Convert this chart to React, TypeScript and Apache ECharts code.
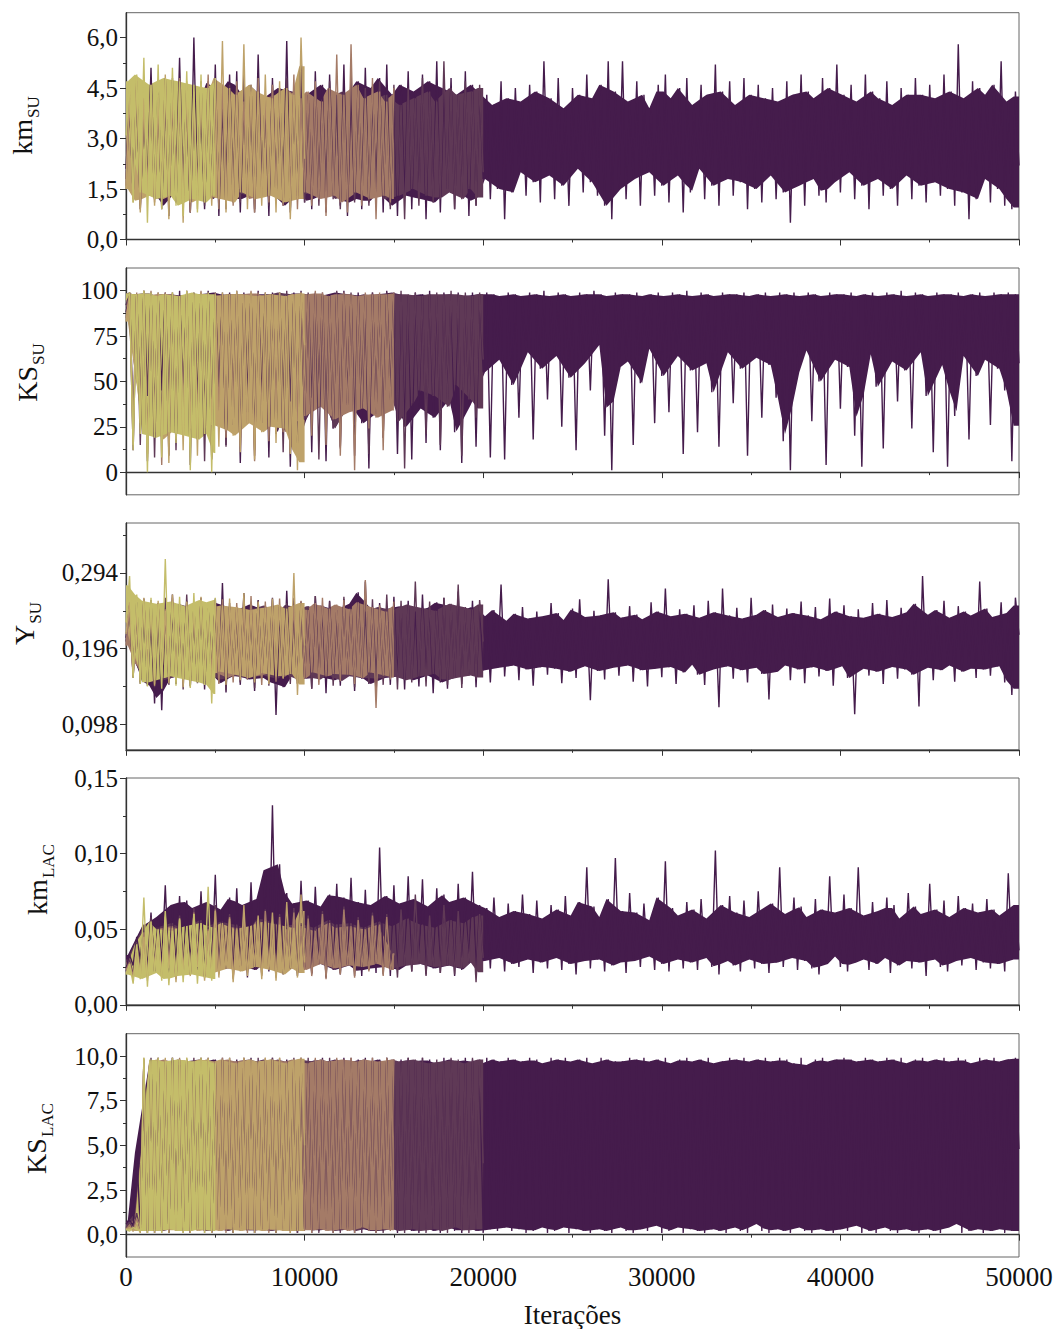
import React, { useEffect, useRef } from 'react';
import * as echarts from 'echarts';

// Trace samples are stored every ITER_STEP iterations (alternating low / high excursions).
const ITER_STEP = 200;
const ITER_MAX = 50000;
const FONT = '"Liberation Serif", "Times New Roman", serif';

// Chains, longest first (drawn underneath the shorter ones).
const chainColors = ['#451c4c', '#5f3956', '#a47b67', '#bea26a', '#c4bd6a'];

// ---------------- km_SU ----------------
const kmSuPurple = [
  2.1, 4.2, 1.3, 4.6, 0.9, 4.0, 1.6, 5.1, 1.2, 4.4,
  1.0, 4.8, 0.7, 4.3, 1.5, 5.4, 1.1, 4.5, 0.8, 6.0,
  1.4, 4.1, 0.9, 4.7, 1.2, 5.2, 0.7, 4.4, 1.6, 4.9,
  1.1, 5.0, 0.8, 4.3, 1.3, 4.6, 0.9, 5.5, 1.5, 4.2,
  0.7, 4.8, 1.2, 4.5, 1.0, 5.9, 0.8, 4.4, 1.4, 5.6,
  1.1, 4.3, 0.9, 5.0, 1.3, 4.6, 0.8, 4.9, 1.6, 4.2,
  1.0, 5.2, 0.7, 4.4, 1.2, 4.7, 0.9, 5.1, 1.1, 4.5,
  1.4, 4.8, 0.8, 5.2, 1.0, 4.3, 0.7, 4.6, 1.3, 5.0,
  0.9, 4.4, 1.2, 4.9, 0.6, 4.7, 1.1, 5.3, 0.8, 4.5,
  1.5, 4.8, 0.9, 4.3, 1.3, 5.0, 0.7, 4.6, 1.0, 4.4,
  1.8, 4.3, 1.2, 4.0, 1.5, 4.7, 0.6, 4.2, 1.4, 4.5,
  2.0, 4.1, 1.3, 4.6, 1.7, 4.4, 1.1, 5.3, 1.9, 4.2,
  1.2, 4.8, 1.6, 3.9, 1.0, 4.5, 2.1, 4.3, 1.4, 4.9,
  1.7, 4.2, 1.3, 4.6, 1.0, 5.3, 0.6, 4.4, 1.5, 5.3,
  1.2, 4.1, 1.8, 4.7, 1.0, 4.3, 2.0, 3.9, 1.3, 4.6,
  1.6, 4.9, 1.1, 4.2, 1.9, 4.5, 0.8, 4.8, 1.4, 4.0,
  2.1, 4.6, 1.2, 4.3, 1.6, 5.2, 1.0, 4.4, 1.8, 4.7,
  1.3, 4.0, 1.7, 4.8, 0.9, 4.3, 1.5, 4.6, 1.1, 4.2,
  1.9, 4.5, 1.2, 4.1, 1.4, 4.7, 0.5, 4.3, 1.6, 4.9,
  1.0, 4.4, 1.8, 4.2, 1.3, 4.8, 1.1, 4.5, 1.7, 5.2,
  1.4, 4.3, 2.0, 4.6, 1.2, 4.1, 1.6, 4.9, 0.9, 4.4,
  1.8, 4.2, 1.3, 4.7, 1.5, 4.0, 1.0, 4.5, 1.9, 4.3,
  1.2, 4.8, 1.6, 4.3, 1.1, 4.6, 1.7, 4.2, 1.3, 4.9,
  1.5, 4.4, 1.0, 5.8, 1.4, 4.2, 0.6, 4.7, 1.2, 4.5,
  1.8, 4.3, 1.1, 4.6, 1.5, 5.3, 1.0, 4.1, 0.9, 4.4,
  2.2,
];
const kmSuPlum = [
  1.8, 4.0, 1.3, 4.5, 1.0, 3.9, 1.5, 4.3, 1.2, 4.6,
  0.9, 4.2, 1.4, 4.8, 1.1, 4.1, 1.6, 4.4, 0.8, 4.0,
  1.3, 4.7, 1.0, 4.2, 1.5, 4.5, 1.2, 3.9, 0.9, 4.6,
  1.4, 4.3, 1.1, 4.9, 1.3, 4.1, 0.8, 4.4, 1.5, 4.2,
  1.0, 4.6, 1.2, 4.0, 1.6, 4.8, 0.9, 4.3, 1.3, 5.0,
  1.1, 4.2, 1.4, 4.5, 1.0, 4.1, 1.5, 4.7, 1.2, 4.3,
  0.9, 4.4, 1.3, 4.9, 1.1, 4.2, 1.6, 4.5, 1.0, 4.1,
  1.4, 4.7, 1.2, 4.3, 0.9, 4.6, 1.3, 4.0, 0.6, 4.5,
  1.5, 4.2, 1.0, 4.8, 1.3, 4.4, 1.1, 4.1, 1.2, 5.3,
  1.4, 4.5, 0.9, 4.3, 1.2, 4.7, 1.5, 4.4, 1.0, 4.6,
  2.0,
];
const kmSuBrown = [
  1.6, 4.3, 1.2, 4.7, 0.9, 4.1, 1.4, 4.5, 1.1, 4.0,
  1.3, 4.6, 1.0, 4.2, 1.5, 4.8, 1.2, 4.4, 0.8, 4.1,
  1.4, 4.5, 1.1, 4.9, 1.3, 4.2, 0.9, 4.6, 1.2, 4.3,
  1.0, 4.7, 1.5, 4.1, 1.2, 4.4, 0.8, 4.8, 1.3, 4.2,
  1.1, 4.6, 1.4, 4.3, 1.0, 4.5, 1.3, 4.9, 0.9, 4.2,
  1.4, 4.4, 1.0, 4.7, 1.2, 4.1, 0.7, 4.5, 1.3, 5.5,
  1.1, 4.3, 0.8, 5.8, 1.4, 4.6, 1.0, 4.2, 1.2, 4.8,
  0.6, 4.4, 1.3, 4.1, 1.1, 4.5,
];
const kmSuTan = [
  1.5, 4.4, 1.1, 4.8, 0.8, 4.2, 1.3, 4.6, 1.0, 4.3,
  1.2, 4.9, 0.6, 4.5, 1.4, 4.1, 0.5, 4.7, 1.1, 4.4,
  0.9, 4.6, 1.3, 4.2, 1.0, 4.8, 1.2, 5.9, 0.8, 4.5,
  1.1, 4.3, 1.4, 5.8, 0.9, 4.6, 1.2, 4.4, 1.0, 4.9,
  1.3, 4.2, 0.8, 4.7, 1.1, 4.5, 0.6, 4.3, 1.2, 6.0,
  2.4,
];
const kmSuYellow = [
  3.1, 4.7, 1.1, 4.9, 1.4, 5.4, 0.5, 4.6, 1.2, 5.2,
  0.9, 4.8, 1.3, 5.1, 1.0, 4.7, 0.7, 5.0, 1.2, 4.6,
  0.8, 4.9, 1.1, 4.5, 1.3, 4.8,
];

// ---------------- KS_SU ----------------
const ksSuPurple = [
  88, 99, 12, 98, 35, 100, 6, 99, 28, 97,
  45, 99, 9, 98, 22, 100, 38, 97, 4, 99,
  18, 98, 30, 100, 7, 99, 42, 98, 15, 99,
  26, 97, 5, 99, 33, 98, 12, 100, 40, 98,
  8, 99, 21, 98, 36, 97, 3, 99, 17, 100,
  29, 98, 11, 99, 44, 97, 6, 98, 24, 99,
  14, 100, 38, 98, 9, 99, 27, 97, 2, 99,
  33, 98, 19, 100, 41, 99, 10, 98, 25, 97,
  7, 99, 35, 98, 16, 100, 30, 97, 12, 99,
  40, 98, 22, 99, 5, 97, 37, 99, 14, 98,
  55, 99, 8, 98, 62, 97, 7, 99, 48, 98,
  30, 97, 66, 99, 18, 98, 57, 100, 40, 97,
  64, 99, 25, 98, 52, 97, 12, 99, 60, 98,
  45, 100, 70, 98, 20, 97, 1, 99, 58, 98,
  61, 98, 15, 99, 49, 97, 68, 98, 27, 99,
  53, 97, 33, 99, 64, 98, 10, 100, 56, 97,
  22, 99, 60, 98, 44, 97, 14, 99, 66, 98,
  38, 98, 57, 99, 9, 97, 63, 98, 30, 99,
  59, 97, 41, 99, 17, 98, 1, 99, 55, 97,
  67, 99, 28, 98, 50, 97, 4, 99, 62, 98,
  35, 98, 58, 99, 20, 97, 3, 98, 65, 99,
  47, 97, 13, 99, 61, 98, 39, 100, 56, 97,
  24, 99, 66, 98, 42, 97, 11, 99, 59, 98,
  3, 98, 31, 99, 64, 97, 18, 98, 53, 99,
  62, 97, 26, 99, 57, 98, 45, 99, 6, 98,
  60,
];
const ksSuPlum = [
  92, 99, 30, 98, 15, 100, 42, 97, 8, 99,
  25, 98, 38, 99, 12, 97, 33, 100, 20, 98,
  40, 99, 6, 98, 28, 97, 36, 99, 14, 98,
  31, 100, 18, 98, 43, 99, 9, 97, 27, 99,
  35, 98, 22, 99, 11, 100, 39, 98, 16, 97,
  29, 99, 41, 98, 7, 99, 34, 97, 24, 100,
  13, 98, 37, 99, 26, 97, 44, 98, 10, 99,
  32, 97, 19, 99, 40, 98, 28, 100, 2, 98,
  38, 99, 45, 97, 21, 98, 42, 99, 15, 98,
  36, 100, 48, 98, 9, 99, 40, 97, 30, 99,
  62,
];
const ksSuBrown = [
  85, 98, 20, 99, 33, 97, 10, 100, 27, 98,
  4, 99, 31, 98, 18, 97, 35, 99, 12, 98,
  29, 100, 24, 98, 8, 99, 34, 97, 19, 98,
  32, 99, 14, 98, 27, 100, 6, 99, 30, 97,
  17, 98, 33, 99, 22, 97, 11, 98, 28, 99,
  31, 98, 20, 100, 36, 99, 15, 97, 29, 98,
  9, 99, 33, 98, 1, 97, 35, 99, 24, 98,
  30, 99, 12, 98, 34, 99,
];
const ksSuTan = [
  83, 99, 15, 98, 27, 100, 8, 97, 22, 99,
  18, 98, 5, 99, 25, 97, 12, 100, 24, 98,
  9, 99, 21, 98, 26, 97, 14, 99, 23, 98,
  20, 100, 11, 98, 27, 99, 7, 97, 22, 99,
  25, 98, 16, 99, 24, 97, 10, 98, 1, 99,
  70,
];
const ksSuYellow = [
  95, 99, 12, 98, 21, 100, 0, 99, 19, 97,
  8, 98, 22, 99, 16, 97, 20, 100, 1, 99,
  18, 98, 21, 99, 0, 98,
];

// ---------------- Y_SU ----------------
const ySuPurple = [
  0.210, 0.252, 0.160, 0.247, 0.152, 0.261, 0.148, 0.240, 0.125, 0.255,
  0.116, 0.249, 0.158, 0.266, 0.150, 0.243, 0.163, 0.258, 0.147, 0.251,
  0.155, 0.262, 0.143, 0.248, 0.160, 0.256, 0.151, 0.281, 0.139, 0.250,
  0.162, 0.245, 0.149, 0.268, 0.156, 0.253, 0.141, 0.259, 0.158, 0.247,
  0.152, 0.262, 0.110, 0.250, 0.146, 0.271, 0.161, 0.244, 0.150, 0.257,
  0.157, 0.249, 0.144, 0.264, 0.159, 0.252, 0.138, 0.258, 0.155, 0.246,
  0.148, 0.260, 0.162, 0.254, 0.141, 0.269, 0.157, 0.283, 0.150, 0.248,
  0.136, 0.255, 0.158, 0.247, 0.149, 0.263, 0.160, 0.251, 0.143, 0.258,
  0.155, 0.244, 0.147, 0.266, 0.161, 0.249, 0.138, 0.256, 0.152, 0.262,
  0.144, 0.251, 0.159, 0.270, 0.150, 0.246, 0.163, 0.258, 0.146, 0.253,
  0.168, 0.238, 0.152, 0.246, 0.171, 0.279, 0.160, 0.232, 0.174, 0.241,
  0.155, 0.250, 0.169, 0.235, 0.148, 0.244, 0.172, 0.238, 0.162, 0.255,
  0.170, 0.242, 0.151, 0.233, 0.166, 0.248, 0.158, 0.260, 0.173, 0.237,
  0.129, 0.245, 0.167, 0.239, 0.156, 0.286, 0.171, 0.243, 0.161, 0.236,
  0.174, 0.251, 0.153, 0.240, 0.168, 0.234, 0.147, 0.256, 0.170, 0.244,
  0.159, 0.274, 0.172, 0.238, 0.150, 0.247, 0.165, 0.241, 0.175, 0.252,
  0.162, 0.236, 0.149, 0.258, 0.169, 0.243, 0.120, 0.274, 0.173, 0.239,
  0.157, 0.249, 0.168, 0.235, 0.152, 0.262, 0.171, 0.240, 0.163, 0.246,
  0.130, 0.253, 0.166, 0.237, 0.174, 0.248, 0.155, 0.242, 0.169, 0.257,
  0.151, 0.239, 0.172, 0.250, 0.160, 0.234, 0.167, 0.261, 0.148, 0.244,
  0.173, 0.252, 0.158, 0.238, 0.111, 0.247, 0.170, 0.236, 0.161, 0.255,
  0.166, 0.241, 0.150, 0.259, 0.172, 0.237, 0.157, 0.249, 0.169, 0.243,
  0.162, 0.254, 0.121, 0.290, 0.171, 0.240, 0.155, 0.246, 0.168, 0.258,
  0.174, 0.236, 0.153, 0.251, 0.166, 0.244, 0.170, 0.239, 0.158, 0.283,
  0.169, 0.248, 0.161, 0.237, 0.173, 0.256, 0.152, 0.242, 0.136, 0.262,
  0.214,
];
const ySuPlum = [
  0.205, 0.248, 0.158, 0.256, 0.150, 0.243, 0.162, 0.259, 0.146, 0.251,
  0.155, 0.262, 0.149, 0.245, 0.160, 0.254, 0.143, 0.266, 0.157, 0.249,
  0.151, 0.257, 0.163, 0.244, 0.147, 0.261, 0.156, 0.250, 0.142, 0.255,
  0.160, 0.248, 0.152, 0.265, 0.158, 0.246, 0.145, 0.258, 0.161, 0.252,
  0.148, 0.260, 0.157, 0.243, 0.163, 0.255, 0.150, 0.262, 0.155, 0.247,
  0.159, 0.251, 0.144, 0.264, 0.156, 0.249, 0.162, 0.257, 0.148, 0.245,
  0.153, 0.263, 0.160, 0.248, 0.146, 0.256, 0.158, 0.244, 0.151, 0.260,
  0.157, 0.250, 0.149, 0.266, 0.161, 0.246, 0.143, 0.258, 0.155, 0.253,
  0.152, 0.283, 0.160, 0.249, 0.147, 0.257, 0.163, 0.245, 0.154, 0.262,
  0.149, 0.254, 0.158, 0.279, 0.145, 0.250, 0.161, 0.247, 0.156, 0.259,
  0.205,
];
const ySuBrown = [
  0.200, 0.251, 0.162, 0.245, 0.155, 0.258, 0.168, 0.249, 0.150, 0.254,
  0.159, 0.247, 0.165, 0.262, 0.152, 0.244, 0.161, 0.256, 0.148, 0.250,
  0.163, 0.259, 0.154, 0.243, 0.166, 0.253, 0.150, 0.260, 0.158, 0.246,
  0.152, 0.255, 0.167, 0.248, 0.156, 0.264, 0.160, 0.245, 0.149, 0.257,
  0.164, 0.250, 0.153, 0.261, 0.158, 0.244, 0.166, 0.252, 0.151, 0.258,
  0.157, 0.246, 0.165, 0.255, 0.149, 0.262, 0.160, 0.248, 0.163, 0.253,
  0.154, 0.259, 0.162, 0.247, 0.150, 0.256, 0.158, 0.285, 0.165, 0.250,
  0.119, 0.252, 0.161, 0.244, 0.156, 0.257,
];
const ySuTan = [
  0.215, 0.256, 0.160, 0.249, 0.153, 0.262, 0.165, 0.251, 0.148, 0.258,
  0.158, 0.245, 0.151, 0.266, 0.163, 0.250, 0.146, 0.257, 0.159, 0.248,
  0.154, 0.263, 0.161, 0.247, 0.150, 0.259, 0.166, 0.252, 0.149, 0.261,
  0.162, 0.250, 0.155, 0.268, 0.158, 0.246, 0.152, 0.257, 0.164, 0.249,
  0.150, 0.261, 0.160, 0.253, 0.157, 0.248, 0.163, 0.294, 0.136, 0.255,
  0.200,
];
const ySuYellow = [
  0.230, 0.290, 0.158, 0.266, 0.150, 0.258, 0.147, 0.262, 0.155, 0.254,
  0.144, 0.312, 0.160, 0.257, 0.148, 0.263, 0.156, 0.251, 0.145, 0.268,
  0.152, 0.259, 0.149, 0.256, 0.125, 0.262,
];

// ---------------- km_LAC ----------------
const kmLacPurple = [
  0.024, 0.033, 0.026, 0.045, 0.030, 0.052, 0.024, 0.061, 0.022, 0.058,
  0.027, 0.079, 0.021, 0.066, 0.025, 0.072, 0.020, 0.069, 0.028, 0.064,
  0.023, 0.075, 0.019, 0.068, 0.026, 0.086, 0.021, 0.063, 0.024, 0.071,
  0.020, 0.077, 0.025, 0.066, 0.018, 0.081, 0.023, 0.070, 0.027, 0.089,
  0.022, 0.132, 0.026, 0.093, 0.020, 0.074, 0.024, 0.067, 0.019, 0.082,
  0.025, 0.069, 0.021, 0.078, 0.027, 0.065, 0.018, 0.073, 0.023, 0.080,
  0.020, 0.071, 0.026, 0.084, 0.022, 0.068, 0.019, 0.076, 0.024, 0.066,
  0.021, 0.104, 0.025, 0.072, 0.019, 0.079, 0.023, 0.067, 0.026, 0.085,
  0.022, 0.070, 0.027, 0.083, 0.020, 0.065, 0.024, 0.077, 0.021, 0.073,
  0.026, 0.068, 0.019, 0.080, 0.023, 0.071, 0.028, 0.088, 0.022, 0.066,
  0.029, 0.064, 0.024, 0.071, 0.031, 0.058, 0.022, 0.067, 0.027, 0.062,
  0.025, 0.073, 0.030, 0.060, 0.021, 0.069, 0.028, 0.057, 0.024, 0.066,
  0.031, 0.063, 0.023, 0.072, 0.027, 0.059, 0.020, 0.068, 0.029, 0.091,
  0.024, 0.065, 0.030, 0.058, 0.022, 0.070, 0.026, 0.097, 0.028, 0.062,
  0.021, 0.074, 0.029, 0.061, 0.025, 0.067, 0.032, 0.056, 0.023, 0.071,
  0.027, 0.095, 0.022, 0.064, 0.030, 0.059, 0.024, 0.068, 0.028, 0.063,
  0.023, 0.070, 0.031, 0.057, 0.025, 0.102, 0.020, 0.066, 0.029, 0.072,
  0.026, 0.061, 0.022, 0.069, 0.030, 0.058, 0.024, 0.075, 0.027, 0.064,
  0.021, 0.067, 0.028, 0.091, 0.025, 0.060, 0.031, 0.071, 0.023, 0.065,
  0.029, 0.058, 0.024, 0.070, 0.020, 0.063, 0.027, 0.085, 0.032, 0.061,
  0.025, 0.073, 0.022, 0.064, 0.028, 0.091, 0.030, 0.059, 0.023, 0.068,
  0.027, 0.062, 0.031, 0.071, 0.021, 0.066, 0.026, 0.057, 0.029, 0.074,
  0.024, 0.065, 0.028, 0.060, 0.019, 0.080, 0.030, 0.063, 0.025, 0.069,
  0.022, 0.058, 0.029, 0.072, 0.026, 0.064, 0.031, 0.067, 0.023, 0.061,
  0.028, 0.070, 0.024, 0.063, 0.027, 0.059, 0.022, 0.087, 0.030, 0.066,
  0.036,
];
const kmLacPlum = [
  0.022, 0.030, 0.020, 0.041, 0.024, 0.053, 0.019, 0.058, 0.026, 0.051,
  0.021, 0.062, 0.027, 0.054, 0.018, 0.059, 0.025, 0.050, 0.020, 0.064,
  0.028, 0.056, 0.019, 0.052, 0.024, 0.066, 0.021, 0.055, 0.027, 0.060,
  0.018, 0.053, 0.025, 0.061, 0.022, 0.050, 0.028, 0.058, 0.020, 0.063,
  0.026, 0.055, 0.019, 0.060, 0.023, 0.052, 0.027, 0.064, 0.021, 0.054,
  0.024, 0.059, 0.020, 0.051, 0.028, 0.062, 0.018, 0.056, 0.025, 0.053,
  0.021, 0.065, 0.027, 0.054, 0.019, 0.058, 0.026, 0.051, 0.023, 0.061,
  0.028, 0.055, 0.020, 0.060, 0.024, 0.052, 0.018, 0.063, 0.026, 0.057,
  0.022, 0.073, 0.027, 0.053, 0.019, 0.059, 0.025, 0.051, 0.021, 0.066,
  0.026, 0.056, 0.020, 0.062, 0.024, 0.054, 0.028, 0.058, 0.015, 0.060,
  0.031,
];
const kmLacBrown = [
  0.023, 0.028, 0.019, 0.037, 0.022, 0.048, 0.018, 0.055, 0.025, 0.050,
  0.020, 0.059, 0.026, 0.052, 0.017, 0.057, 0.024, 0.049, 0.021, 0.061,
  0.027, 0.054, 0.018, 0.050, 0.023, 0.063, 0.020, 0.053, 0.026, 0.058,
  0.017, 0.051, 0.024, 0.060, 0.021, 0.049, 0.027, 0.056, 0.019, 0.062,
  0.025, 0.053, 0.018, 0.058, 0.022, 0.050, 0.026, 0.061, 0.020, 0.052,
  0.023, 0.057, 0.019, 0.049, 0.027, 0.060, 0.017, 0.054, 0.024, 0.051,
  0.020, 0.063, 0.026, 0.052, 0.018, 0.056, 0.025, 0.050, 0.022, 0.059,
  0.027, 0.053, 0.019, 0.058, 0.023, 0.034,
];
const kmLacTan = [
  0.021, 0.026, 0.017, 0.034, 0.020, 0.045, 0.016, 0.052, 0.023, 0.049,
  0.018, 0.058, 0.024, 0.051, 0.015, 0.056, 0.022, 0.048, 0.019, 0.060,
  0.025, 0.053, 0.016, 0.049, 0.021, 0.062, 0.018, 0.054, 0.024, 0.057,
  0.015, 0.050, 0.022, 0.066, 0.019, 0.052, 0.025, 0.059, 0.017, 0.055,
  0.023, 0.061, 0.016, 0.053, 0.020, 0.068, 0.024, 0.051, 0.018, 0.073,
  0.028,
];
const kmLacYellow = [
  0.020, 0.027, 0.014, 0.040, 0.017, 0.071, 0.012, 0.055, 0.021, 0.050,
  0.016, 0.062, 0.013, 0.049, 0.019, 0.057, 0.015, 0.052, 0.020, 0.060,
  0.014, 0.054, 0.018, 0.078, 0.016, 0.051,
];

// ---------------- KS_LAC ----------------
const ksLacPurple = [
  0.6, 0.8, 0.5, 4.6, 0.4, 9.8, 0.2, 9.6, 0.1, 9.9,
  0.3, 9.7, 0.1, 9.9, 0.5, 9.5, 0.2, 9.8, 0.1, 9.6,
  0.4, 9.9, 0.2, 9.7, 0.1, 9.8, 0.3, 9.9, 0.2, 9.5,
  0.1, 9.8, 0.4, 9.6, 0.2, 9.9, 0.1, 9.7, 0.3, 9.8,
  0.2, 9.9, 0.1, 9.5, 0.4, 9.8, 0.2, 9.7, 0.1, 9.9,
  0.3, 9.6, 0.1, 9.8, 0.2, 9.9, 0.5, 9.7, 0.1, 9.8,
  0.2, 9.9, 0.4, 9.6, 0.1, 9.8, 0.3, 9.9, 0.2, 9.7,
  0.1, 9.8, 0.2, 9.9, 0.4, 9.5, 0.1, 9.8, 0.3, 9.9,
  0.2, 9.7, 0.1, 9.9, 0.3, 9.8, 0.2, 9.6, 0.1, 9.9,
  0.4, 9.8, 0.2, 9.7, 0.1, 9.9, 0.3, 9.8, 0.2, 9.5,
  0.1, 9.9, 0.3, 9.8, 0.2, 9.7, 0.4, 9.9, 0.2, 9.8,
  0.3, 9.7, 0.1, 9.9, 0.2, 9.8, 0.4, 9.6, 0.1, 9.9,
  0.2, 9.8, 0.4, 9.9, 0.1, 9.7, 0.3, 9.8, 0.2, 9.9,
  0.1, 9.6, 0.3, 9.9, 0.2, 9.8, 0.1, 9.7, 0.4, 9.7,
  0.2, 9.9, 0.1, 9.8, 0.3, 9.9, 0.2, 9.7, 0.5, 9.8,
  0.1, 9.9, 0.2, 9.6, 0.4, 9.8, 0.1, 9.9, 0.3, 9.7,
  0.2, 9.8, 0.1, 9.9, 0.3, 9.6, 0.2, 9.7, 0.1, 9.9,
  0.4, 9.8, 0.2, 9.9, 0.1, 9.7, 0.6, 9.8, 0.2, 9.9,
  0.1, 9.7, 0.3, 9.9, 0.2, 9.8, 0.1, 9.6, 0.4, 9.9,
  0.2, 9.5, 0.1, 9.8, 0.3, 9.9, 0.2, 9.7, 0.1, 9.8,
  0.3, 9.9, 0.2, 9.8, 0.5, 9.7, 0.1, 9.9, 0.2, 9.8,
  0.1, 9.7, 0.4, 9.9, 0.2, 9.8, 0.1, 9.9, 0.3, 9.6,
  0.2, 9.8, 0.1, 9.9, 0.3, 9.7, 0.2, 9.8, 0.1, 9.9,
  0.4, 9.7, 0.6, 9.9, 0.1, 9.8, 0.2, 9.6, 0.3, 9.9,
  0.1, 9.8, 0.2, 9.9, 0.3, 9.7, 0.1, 9.8, 0.2, 9.9,
  4.8,
];
const ksLacPlum = [
  0.4, 0.7, 0.3, 1.2, 0.2, 9.7, 0.1, 9.9, 0.3, 9.8,
  0.2, 9.6, 0.1, 9.9, 0.4, 9.8, 0.2, 9.7, 0.1, 9.9,
  0.3, 9.8, 0.2, 9.9, 0.1, 9.6, 0.3, 9.8, 0.2, 9.9,
  0.1, 9.7, 0.4, 9.9, 0.2, 9.8, 0.1, 9.9, 0.3, 9.6,
  0.2, 9.9, 0.1, 9.8, 0.3, 9.7, 0.2, 9.9, 0.1, 9.8,
  0.4, 9.9, 0.2, 9.7, 0.1, 9.8, 0.3, 9.9, 0.2, 9.6,
  0.1, 9.8, 0.3, 9.9, 0.2, 9.7, 0.1, 9.8, 0.4, 9.9,
  0.2, 9.6, 0.1, 9.9, 0.3, 9.8, 0.2, 9.7, 0.1, 9.9,
  0.3, 9.8, 0.2, 9.9, 0.1, 9.6, 0.3, 9.8, 0.2, 9.7,
  0.1, 9.9, 0.4, 9.8, 0.2, 9.6, 0.1, 9.9, 0.3, 9.8,
  4.0,
];
const ksLacBrown = [
  0.3, 0.5, 0.2, 0.9, 0.4, 9.8, 0.1, 9.6, 0.2, 9.9,
  0.1, 9.8, 0.3, 9.7, 0.2, 9.9, 0.1, 9.8, 0.4, 9.6,
  0.2, 9.9, 0.1, 9.8, 0.3, 9.7, 0.2, 9.9, 0.1, 9.8,
  0.4, 9.7, 0.2, 9.9, 0.1, 9.8, 0.3, 9.6, 0.2, 9.9,
  0.1, 9.8, 0.3, 9.9, 0.2, 9.7, 0.1, 9.8, 0.4, 9.9,
  0.2, 9.6, 0.1, 9.9, 0.3, 9.8, 0.2, 9.7, 0.1, 9.9,
  0.3, 9.8, 0.2, 9.9, 0.1, 9.7, 0.4, 9.8, 0.2, 9.9,
  0.1, 9.7, 0.3, 9.9, 0.2, 9.8,
];
const ksLacTan = [
  0.3, 0.4, 0.2, 0.6, 0.1, 9.9, 0.2, 9.7, 0.1, 9.8,
  0.3, 9.9, 0.1, 9.6, 0.2, 9.8, 0.4, 9.9, 0.1, 9.7,
  0.2, 9.8, 0.3, 9.9, 0.1, 9.7, 0.2, 9.8, 0.3, 9.9,
  0.1, 9.6, 0.2, 9.9, 0.3, 9.8, 0.1, 9.7, 0.2, 9.9,
  0.3, 9.8, 0.1, 9.9, 0.2, 9.6, 0.1, 9.8, 0.2, 9.9,
  5.0,
];
const ksLacYellow = [
  0.3, 0.2, 0.4, 0.3, 0.2, 9.9, 0.1, 9.8, 0.2, 9.9,
  0.1, 9.7, 0.3, 9.9, 0.2, 9.8, 0.1, 9.9, 0.2, 9.7,
  0.3, 9.9, 0.1, 9.8, 0.2, 9.6,
];

// ---------------- axis ticks ----------------
const kmSuTicks = [0, 1.5, 3, 4.5, 6];
const kmSuMinor = [0.75, 2.25, 3.75, 5.25];
const ksSuTicks = [0, 25, 50, 75, 100];
const ksSuMinor = [12.5, 37.5, 62.5, 87.5];
const ySuTicks = [0.098, 0.196, 0.294];
const ySuMinor = [0.147, 0.245, 0.343];
const kmLacTicks = [0, 0.05, 0.1, 0.15];
const kmLacMinor = [0.025, 0.075, 0.125];
const ksLacTicks = [0, 2.5, 5, 7.5, 10];
const ksLacMinor = [1.25, 3.75, 6.25, 8.75];

const PANEL_LEFT = 126;
const PANEL_WIDTH = 893;
const PANEL_HEIGHT = 226.8;

const panels = [
  { main: 'km', sub: 'SU', min: 0, max: 6.74, ticks: kmSuTicks, minor: kmSuMinor, dec: 1,
    chains: [kmSuPurple, kmSuPlum, kmSuBrown, kmSuTan, kmSuYellow], top: 12.7, titleX: 22.5, titleY: 126 },
  { main: 'KS', sub: 'SU', min: -12.5, max: 112.5, ticks: ksSuTicks, minor: ksSuMinor, dec: 0,
    chains: [ksSuPurple, ksSuPlum, ksSuBrown, ksSuTan, ksSuYellow], top: 268, titleX: 27.5, titleY: 373 },
  { main: 'Y', sub: 'SU', min: 0.0648, max: 0.3588, ticks: ySuTicks, minor: ySuMinor, dec: 3,
    chains: [ySuPurple, ySuPlum, ySuBrown, ySuTan, ySuYellow], top: 523, titleX: 24.5, titleY: 624 },
  { main: 'km', sub: 'LAC', min: 0, max: 0.15, ticks: kmLacTicks, minor: kmLacMinor, dec: 2,
    chains: [kmLacPurple, kmLacPlum, kmLacBrown, kmLacTan, kmLacYellow], top: 778, titleX: 37.5, titleY: 880 },
  { main: 'KS', sub: 'LAC', min: -1.25, max: 11.25, ticks: ksLacTicks, minor: ksLacMinor, dec: 1,
    chains: [ksLacPurple, ksLacPlum, ksLacBrown, ksLacTan, ksLacYellow], top: 1033.7, titleX: 36.5, titleY: 1139 },
];

// Dense core of a trace: each low/high pair is pulled in to the mean of its
// neighbouring pairs, so isolated excursions stay as thin spikes of the line.
function coreBand(values: number[]) {
  const pairs: { x: number; lo: number; hi: number }[] = [];
  for (let k = 0; 2 * k + 1 < values.length; k++) {
    const a = values[2 * k];
    const b = values[2 * k + 1];
    pairs.push({ x: (2 * k + 0.5) * ITER_STEP, lo: Math.min(a, b), hi: Math.max(a, b) });
  }
  const n = pairs.length;
  const upper: number[][] = [];
  const lower: number[][] = [];
  for (let k = 0; k < n; k++) {
    const prev = pairs[Math.max(0, k - 1)];
    const next = pairs[Math.min(n - 1, k + 1)];
    let hi = Math.min(pairs[k].hi, (prev.hi + next.hi) / 2);
    let lo = Math.max(pairs[k].lo, (prev.lo + next.lo) / 2);
    if (lo > hi) {
      const m = (lo + hi) / 2;
      lo = m;
      hi = m;
    }
    upper.push([pairs[k].x, hi]);
    lower.push([pairs[k].x, lo]);
  }
  const xEnd = (values.length - 1) * ITER_STEP;
  upper.unshift([0, upper[0][1]]);
  lower.unshift([0, lower[0][1]]);
  upper.push([xEnd, upper[upper.length - 1][1]]);
  lower.push([xEnd, lower[lower.length - 1][1]]);
  return { upper, lower };
}

function bandSeries(values: number[], color: string, panel: number) {
  const band = coreBand(values);
  return {
    type: 'custom',
    xAxisIndex: panel,
    yAxisIndex: panel * 2,
    silent: true,
    data: [[0, values[0]]],
    renderItem: (_params: any, api: any) => {
      const pts: number[][] = [];
      band.upper.forEach((p) => pts.push(api.coord(p)));
      for (let k = band.lower.length - 1; k >= 0; k--) pts.push(api.coord(band.lower[k]));
      return { type: 'polygon', shape: { points: pts }, style: { fill: color } };
    },
  };
}

function traceSeries(values: number[], color: string, panel: number) {
  return {
    type: 'line',
    xAxisIndex: panel,
    yAxisIndex: panel * 2,
    silent: true,
    showSymbol: false,
    symbol: 'none',
    data: values.map((v, i) => [i * ITER_STEP, v]),
    lineStyle: { color, width: 1.4 },
    emphasis: { disabled: true },
  };
}

function textWidth(text: string, size: number) {
  const ctx = document.createElement('canvas').getContext('2d')!;
  ctx.font = `${size}px ${FONT}`;
  return ctx.measureText(text).width;
}

function buildOption() {
  const grid: any[] = [];
  const xAxis: any[] = [];
  const yAxis: any[] = [];
  const series: any[] = [];
  const graphic: any[] = [];
  const axisColor = '#333';

  panels.forEach((p, i) => {
    const last = i === panels.length - 1;
    grid.push({
      left: PANEL_LEFT, width: PANEL_WIDTH, top: p.top, height: PANEL_HEIGHT,
      show: true, borderColor: '#666', borderWidth: 1, backgroundColor: 'transparent',
    });
    xAxis.push({
      type: 'value', gridIndex: i, position: 'bottom', min: 0, max: ITER_MAX, interval: 10000,
      axisLine: { show: true, lineStyle: { color: axisColor, width: 1.3 } },
      axisTick: { show: true, length: 6, lineStyle: { color: axisColor } },
      minorTick: { show: true, splitNumber: 2, length: 3, lineStyle: { color: axisColor } },
      splitLine: { show: false },
      minorSplitLine: { show: false },
      axisLabel: {
        show: last, fontSize: 27, fontFamily: FONT, color: '#111', margin: 6,
        formatter: (v: number) => String(v),
      },
      name: last ? 'Iterações' : '',
      nameLocation: 'middle',
      nameGap: 44,
      nameTextStyle: { fontSize: 27, fontFamily: FONT, color: '#111' },
    });
    const fmt = (v: number) => v.toFixed(p.dec).replace('.', ',');
    yAxis.push({
      type: 'value', gridIndex: i, position: 'left', min: p.min, max: p.max,
      axisLine: { show: true, lineStyle: { color: axisColor, width: 1.3 } },
      axisTick: { show: true, length: 6, customValues: p.ticks, lineStyle: { color: axisColor } },
      axisLabel: { customValues: p.ticks, formatter: fmt, fontSize: 25, fontFamily: FONT, color: '#111', margin: 8 },
      splitLine: { show: false },
    });
    yAxis.push({
      type: 'value', gridIndex: i, position: 'left', offset: 0, min: p.min, max: p.max,
      axisLine: { show: false },
      axisTick: { show: true, length: 3, customValues: p.minor, lineStyle: { color: axisColor } },
      axisLabel: { show: false },
      splitLine: { show: false },
    });
    p.chains.forEach((vals, c) => {
      series.push(bandSeries(vals, chainColors[c], i));
      series.push(traceSeries(vals, chainColors[c], i));
    });

    const mainSize = 28;
    const subSize = 17;
    const wm = textWidth(p.main, mainSize);
    const ws = textWidth(p.sub, subSize);
    const junction = (wm - ws) / 2;
    graphic.push({
      type: 'group', x: p.titleX, y: p.titleY, rotation: Math.PI / 2, silent: true,
      children: [
        { type: 'text', x: junction, y: 0,
          style: { text: p.main, fontSize: mainSize, fontFamily: FONT, fill: '#111', align: 'right', verticalAlign: 'middle' } },
        { type: 'text', x: junction + 1, y: 10.7,
          style: { text: p.sub, fontSize: subSize, fontFamily: FONT, fill: '#111', align: 'left', verticalAlign: 'middle' } },
      ],
    });
  });

  // inner ticks along the top edge of the km_LAC panel
  xAxis.push({
    type: 'value', gridIndex: 3, position: 'top', min: 0, max: ITER_MAX, interval: 5000,
    axisLine: { show: false },
    axisTick: { show: true, inside: true, length: 4, lineStyle: { color: axisColor } },
    axisLabel: { show: false },
    splitLine: { show: false },
  });

  return {
    animation: false,
    backgroundColor: '#fff',
    textStyle: { fontFamily: FONT },
    grid, xAxis, yAxis, series, graphic,
  };
}

export default function App() {
  const ref = useRef<HTMLDivElement>(null);
  useEffect(() => {
    const chart = echarts.init(ref.current!, null, { renderer: 'svg' });
    chart.setOption(buildOption() as any);
    return () => chart.dispose();
  }, []);
  return (
    <div
      ref={ref}
      style={{ position: 'absolute', left: 0, top: 0, width: 1062, height: 1329, background: '#fff' }}
    />
  );
}
